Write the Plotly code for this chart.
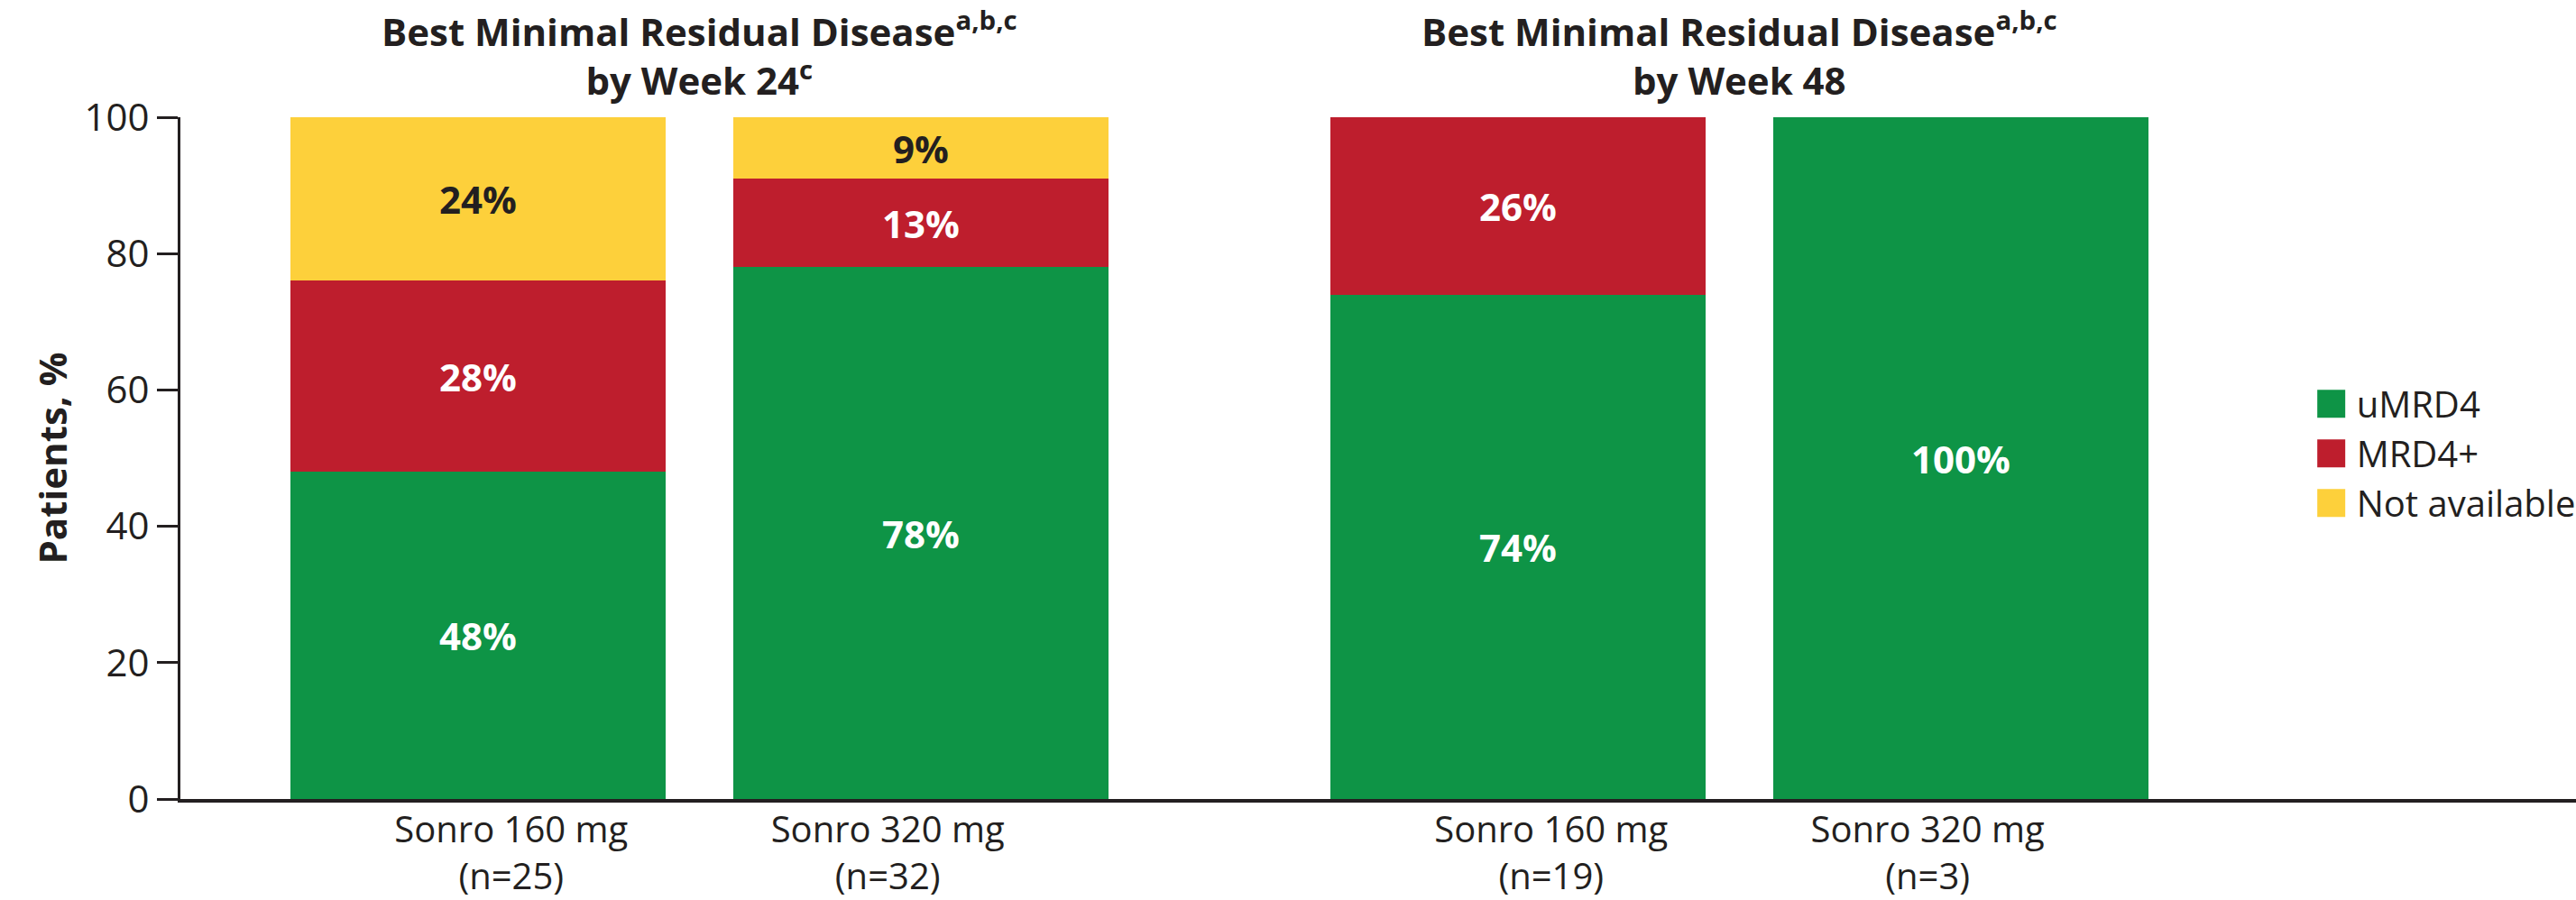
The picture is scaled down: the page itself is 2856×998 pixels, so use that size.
import plotly.graph_objects as go

# ---------------- data ----------------
bar_labels = [
    "Sonro 160 mg<br>(n=25)",
    "Sonro 320 mg<br>(n=32)",
    "Sonro 160 mg<br>(n=19)",
    "Sonro 320 mg<br>(n=3)",
]
group_of_bar = [0, 0, 1, 1]          # 0 = week 24 panel, 1 = week 48 panel
slot_in_group = [0, 1, 0, 1]
umrd4 = [48, 78, 74, 100]
mrd4_pos = [28, 13, 26, 0]
not_available = [24, 9, 0, 0]
series_names = ["uMRD4", "MRD4+", "Not available"]
panel_titles = [
    "<b>Best Minimal Residual Disease<sup>a,b,c</sup><br>by Week 24<sup>c</sup></b>",
    "<b>Best Minimal Residual Disease<sup>a,b,c</sup><br>by Week 48</b>",
]
y_ticks = [0, 20, 40, 60, 80, 100]
y_title = "Patients, %"

# ---------------- style ----------------
FONT = "Open Sans"
DARK = "#231F20"
GREEN = "#0E9446"
RED = "#BE1E2D"
YELLOW = "#FDD03B"
GROUP_STEP = 2.348
BAR_WIDTH = 0.847
LABEL_SHIFT = 0.075

x_pos = [g * GROUP_STEP + s for g, s in zip(group_of_bar, slot_in_group)]
tick_pos = [x + (LABEL_SHIFT if s == 0 else -LABEL_SHIFT) for x, s in zip(x_pos, slot_in_group)]


def pct_text(vals):
    return [f"{v}%" if v else "" for v in vals]


fig = go.Figure()
for name, vals, col, tcol in [
    (series_names[0], umrd4, GREEN, "white"),
    (series_names[1], mrd4_pos, RED, "white"),
    (series_names[2], not_available, YELLOW, DARK),
]:
    fig.add_trace(go.Bar(
        x=x_pos, y=vals, name=name, width=BAR_WIDTH,
        marker=dict(color=col, line=dict(width=0)),
        text=pct_text(vals), textposition="inside", insidetextanchor="middle",
        textangle=0, constraintext="none",
        textfont=dict(family=FONT, size=42, color=tcol, weight="bold"),
        hoverinfo="skip",
    ))

for g, title in enumerate(panel_titles):
    xs = [x for x, gg in zip(x_pos, group_of_bar) if gg == g]
    fig.add_annotation(
        x=sum(xs) / len(xs), xref="x", y=1, yref="paper",
        yanchor="bottom", xanchor="center", yshift=11,
        text=title, showarrow=False, align="center",
        font=dict(family=FONT, size=42, color=DARK),
    )

fig.update_layout(
    width=2856, height=998,
    margin=dict(l=200, r=0, t=130, b=112, autoexpand=False),
    barmode="stack",
    plot_bgcolor="white", paper_bgcolor="white",
    font=dict(family=FONT, color=DARK, size=42),
    legend=dict(
        x=0.8873, xanchor="left", y=0.507, yanchor="middle",
        traceorder="normal", itemwidth=46,
        font=dict(family=FONT, size=40, color=DARK),
        bgcolor="rgba(0,0,0,0)", itemclick=False, itemdoubleclick=False,
    ),
    xaxis=dict(
        range=[-0.672, 4.737], tickvals=tick_pos, ticktext=bar_labels,
        ticks="", showline=True, linewidth=4, linecolor=DARK,
        showgrid=False, zeroline=False, ticklabelstandoff=-4,
        tickfont=dict(family=FONT, size=40, color=DARK),
    ),
    yaxis=dict(
        range=[0, 100], tickvals=y_ticks, ticks="outside", ticklen=23,
        tickwidth=3, tickcolor=DARK, showline=True, linewidth=3, linecolor=DARK,
        showgrid=False, zeroline=False,
        tickfont=dict(family=FONT, size=42, color=DARK),
        title=dict(text=f"<b>{y_title}</b>", font=dict(family=FONT, size=42, color=DARK), standoff=6),
    ),
    showlegend=True,
)

post = """
var gd = document.getElementById('{plot_id}');
gd.querySelectorAll('path.legendbar, .legendpoints path').forEach(function(p){
  p.setAttribute('d', 'M15.5,15.5H-15.5V-15.5H15.5Z');
});
"""

fig.write_html("out.html", post_script=post)
